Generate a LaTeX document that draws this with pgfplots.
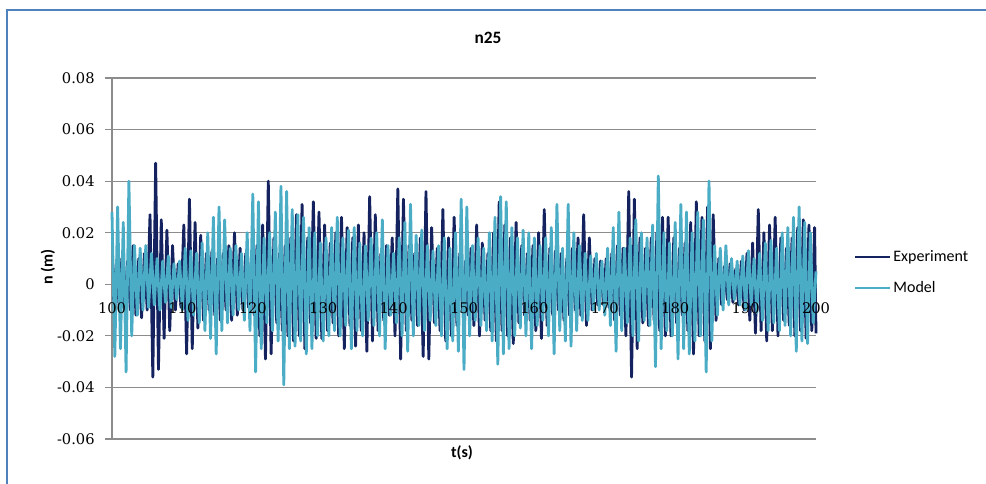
\documentclass[border=0pt]{standalone}
\usepackage{fontspec}
\setmainfont{Carlito}
\newfontfamily\tickfont{DejaVu Serif}
\usepackage{pgfplots}
\pgfplotsset{compat=1.18}
\definecolor{expc}{RGB}{20,35,95}
\definecolor{modc}{RGB}{75,172,198}
\definecolor{gridc}{RGB}{140,140,140}
\definecolor{framec}{RGB}{79,129,189}
\begin{document}
\begin{tikzpicture}
\useasboundingbox (0pt,0pt) rectangle (739.5pt,363pt);
\draw[framec, line width=1.5pt] (5.25pt,-4pt) -- (5.25pt,355.5pt) -- (745pt,355.5pt);
\node[font=\bfseries\fontsize{13}{15}\selectfont] at (366pt,334.5pt) {n25};
\node[font=\bfseries\fontsize{12}{14}\selectfont, rotate=90] at (36pt,162.75pt) {n (m)};
\node[font=\bfseries\fontsize{12}{14}\selectfont] at (346.5pt,23.25pt) {t(s)};
\pgfplotsset{myaxis/.style={at={(84pt,33.75pt)}, anchor=south west, scale only axis,
  width=528pt, height=270.75pt,
  xmin=100, xmax=200, ymin=-0.06, ymax=0.08,
  scaled y ticks=false, scaled x ticks=false,
  tick label style={font=\tickfont\fontsize{11}{13}\selectfont, black},
  clip=false}}
\begin{axis}[myaxis,
  axis y line*=left, axis x line=none,
  axis line style={gridc, line width=0.8pt, -},
  ytick={-0.06,-0.04,-0.02,0,0.02,0.04,0.06,0.08},
  yticklabels={-0.06,-0.04,-0.02,0,0.02,0.04,0.06,0.08},
  ymajorgrids, grid style={gridc, line width=0.8pt},
  ytick style={gridc, line width=0.8pt}, tick align=outside, major tick length=5pt,
  yticklabel style={xshift=-4.5pt},
  legend style={at={(axis description cs:1.048,0.46)}, anchor=west, draw=none, fill=none,
    font=\fontsize{12}{14.5}\selectfont, row sep=9.5pt},
  legend cell align=left,
  legend image code/.code={\draw[#1, line width=1.5pt] (0pt,0pt) -- (26pt,0pt);},
]
\addplot[expc, line width=2.1pt, line join=round] coordinates {
(100.2,-0.006)(100.6,0.008)(101.0,-0.008)(101.4,0.010)(101.8,-0.009)(102.2,0.009)(102.6,-0.010)(103.0,0.015)(103.4,-0.012)(103.8,0.010)(104.2,-0.013)(104.6,0.012)(105.0,-0.010)(105.4,0.027)(105.8,-0.036)(106.2,0.047)(106.6,-0.033)(107.0,0.025)(107.4,-0.021)(107.8,0.021)(108.2,-0.018)(108.6,0.015)(109.0,-0.010)(109.4,0.008)(109.8,-0.009)(110.2,0.023)(110.6,-0.027)(111.0,0.033)(111.4,-0.025)(111.8,0.024)(112.2,-0.017)(112.6,0.019)(113.0,-0.014)(113.4,0.012)(113.8,-0.010)(114.2,0.013)(114.6,-0.012)(115.0,0.010)(115.4,-0.014)(115.8,0.012)(116.2,-0.010)(116.6,0.015)(117.0,-0.014)(117.4,0.020)(117.8,-0.012)(118.2,0.014)(118.6,-0.010)(119.0,0.012)(119.4,-0.009)(119.8,0.010)(120.2,-0.012)(120.6,0.015)(121.0,-0.020)(121.4,0.023)(121.8,-0.029)(122.2,0.040)(122.6,-0.027)(123.0,0.018)(123.4,-0.015)(123.8,0.012)(124.2,-0.018)(124.6,0.015)(125.0,-0.020)(125.4,0.018)(125.8,-0.022)(126.2,0.027)(126.6,-0.020)(127.0,0.031)(127.4,-0.025)(127.8,0.018)(128.2,-0.015)(128.6,0.032)(129.0,-0.021)(129.4,0.028)(129.8,-0.021)(130.2,0.023)(130.6,-0.018)(131.0,0.016)(131.4,-0.015)(131.8,0.020)(132.2,-0.020)(132.6,0.026)(133.0,-0.025)(133.4,0.022)(133.8,-0.016)(134.2,0.018)(134.6,-0.024)(135.0,0.023)(135.4,-0.018)(135.8,0.020)(136.2,-0.026)(136.6,0.034)(137.0,-0.022)(137.4,0.027)(137.8,-0.018)(138.2,0.012)(138.6,-0.014)(139.0,0.015)(139.4,-0.012)(139.8,0.018)(140.2,-0.020)(140.6,0.037)(141.0,-0.029)(141.4,0.033)(141.8,-0.018)(142.2,0.015)(142.6,-0.014)(143.0,0.012)(143.4,-0.016)(143.8,0.018)(144.2,-0.028)(144.6,0.036)(145.0,-0.029)(145.4,0.022)(145.8,-0.015)(146.2,0.014)(146.6,-0.018)(147.0,0.029)(147.4,-0.022)(147.8,0.018)(148.2,-0.020)(148.6,0.026)(149.0,-0.016)(149.4,0.012)(149.8,-0.010)(150.2,0.009)(150.6,-0.012)(151.0,0.014)(151.4,-0.016)(151.8,0.023)(152.2,-0.020)(152.6,0.016)(153.0,-0.014)(153.4,0.012)(153.8,-0.018)(154.2,0.020)(154.6,-0.022)(155.0,0.032)(155.4,-0.018)(155.8,0.023)(156.2,-0.020)(156.6,0.018)(157.0,-0.023)(157.4,0.024)(157.8,-0.015)(158.2,0.015)(158.6,-0.012)(159.0,0.012)(159.4,-0.014)(159.8,0.015)(160.2,-0.018)(160.6,0.020)(161.0,-0.021)(161.4,0.029)(161.8,-0.016)(162.2,0.014)(162.6,-0.012)(163.0,0.013)(163.4,-0.010)(163.8,0.012)(164.2,-0.014)(164.6,0.010)(165.0,-0.012)(165.4,0.014)(165.8,-0.010)(166.2,0.018)(166.6,-0.012)(167.0,0.027)(167.4,-0.016)(167.8,0.018)(168.2,-0.010)(168.6,0.010)(169.0,-0.008)(169.4,0.009)(169.8,-0.008)(170.2,0.010)(170.6,-0.009)(171.0,0.012)(171.4,-0.014)(171.8,0.015)(172.2,-0.012)(172.6,0.014)(173.0,-0.020)(173.4,0.036)(173.8,-0.036)(174.2,0.033)(174.6,-0.025)(175.0,0.018)(175.4,-0.015)(175.8,0.014)(176.2,-0.016)(176.6,0.018)(177.0,-0.014)(177.4,0.020)(177.8,-0.018)(178.2,0.026)(178.6,-0.020)(179.0,0.026)(179.4,-0.020)(179.8,0.018)(180.2,-0.015)(180.6,0.014)(181.0,-0.012)(181.4,0.016)(181.8,-0.018)(182.2,0.024)(182.6,-0.027)(183.0,0.032)(183.4,-0.020)(183.8,0.026)(184.2,-0.022)(184.6,0.030)(185.0,-0.025)(185.4,0.027)(185.8,-0.014)(186.2,0.010)(186.6,-0.008)(187.0,0.007)(187.4,-0.006)(187.8,0.008)(188.2,-0.007)(188.6,0.006)(189.0,-0.008)(189.4,0.009)(189.8,-0.010)(190.2,0.012)(190.6,-0.014)(191.0,0.016)(191.4,-0.019)(191.8,0.029)(192.2,-0.018)(192.6,0.020)(193.0,-0.022)(193.4,0.023)(193.8,-0.018)(194.2,0.026)(194.6,-0.020)(195.0,0.018)(195.4,-0.014)(195.8,0.014)(196.2,-0.016)(196.6,0.018)(197.0,-0.020)(197.4,0.022)(197.8,-0.018)(198.2,0.025)(198.6,-0.021)(199.0,0.023)(199.4,-0.018)(199.8,0.022)(200.0,-0.019)
};
\addlegendentry{Experiment}
\addplot[modc, line width=2.1pt, line join=round] coordinates {
(100.0,0.028)(100.4,-0.028)(100.8,0.030)(101.2,-0.025)(101.6,0.024)(102.0,-0.034)(102.4,0.040)(102.8,-0.020)(103.2,0.015)(103.6,-0.012)(104.0,0.014)(104.4,-0.010)(104.8,0.015)(105.2,-0.009)(105.6,0.012)(106.0,-0.008)(106.4,0.010)(106.8,-0.010)(107.2,0.009)(107.6,-0.007)(108.0,0.011)(108.4,-0.009)(108.8,0.008)(109.2,-0.006)(109.6,0.009)(110.0,-0.010)(110.4,0.014)(110.8,-0.014)(111.2,0.013)(111.6,-0.012)(112.0,0.012)(112.4,-0.015)(112.8,0.016)(113.2,-0.018)(113.6,0.020)(114.0,-0.021)(114.4,0.026)(114.8,-0.027)(115.2,0.030)(115.6,-0.018)(116.0,0.025)(116.4,-0.015)(116.8,0.014)(117.2,-0.012)(117.6,0.015)(118.0,-0.010)(118.4,0.012)(118.8,-0.014)(119.2,0.020)(119.6,-0.018)(120.0,0.035)(120.4,-0.034)(120.8,0.032)(121.2,-0.025)(121.6,0.018)(122.0,-0.015)(122.4,0.020)(122.8,-0.018)(123.2,0.028)(123.6,-0.022)(124.0,0.038)(124.4,-0.039)(124.8,0.036)(125.2,-0.025)(125.6,0.029)(126.0,-0.024)(126.4,0.027)(126.8,-0.022)(127.2,0.026)(127.6,-0.027)(128.0,0.022)(128.4,-0.025)(128.8,0.020)(129.2,-0.020)(129.6,0.016)(130.0,-0.022)(130.4,0.018)(130.8,-0.020)(131.2,0.022)(131.6,-0.018)(132.0,0.026)(132.4,-0.020)(132.8,0.018)(133.2,-0.016)(133.6,0.021)(134.0,-0.025)(134.4,0.022)(134.8,-0.018)(135.2,0.016)(135.6,-0.020)(136.0,0.015)(136.4,-0.014)(136.8,0.018)(137.2,-0.016)(137.6,0.020)(138.0,-0.020)(138.4,0.025)(138.8,-0.025)(139.2,0.015)(139.6,-0.012)(140.0,0.012)(140.4,-0.015)(140.8,0.018)(141.2,-0.020)(141.6,0.024)(142.0,-0.026)(142.4,0.031)(142.8,-0.020)(143.2,0.019)(143.6,-0.016)(144.0,0.021)(144.4,-0.018)(144.8,0.015)(145.2,-0.014)(145.6,0.013)(146.0,-0.016)(146.4,0.015)(146.8,-0.020)(147.2,0.018)(147.6,-0.025)(148.0,0.014)(148.4,-0.022)(148.8,0.020)(149.2,-0.026)(149.6,0.033)(150.0,-0.033)(150.4,0.030)(150.8,-0.020)(151.2,0.015)(151.6,-0.014)(152.0,0.018)(152.4,-0.016)(152.8,0.014)(153.2,-0.018)(153.6,0.020)(154.0,-0.022)(154.4,0.026)(154.8,-0.031)(155.2,0.034)(155.6,-0.027)(156.0,0.032)(156.4,-0.025)(156.8,0.022)(157.2,-0.020)(157.6,0.018)(158.0,-0.017)(158.4,0.021)(158.8,-0.020)(159.2,0.020)(159.6,-0.025)(160.0,0.018)(160.4,-0.016)(160.8,0.015)(161.2,-0.014)(161.6,0.018)(162.0,-0.020)(162.4,0.022)(162.8,-0.027)(163.2,0.031)(163.6,-0.018)(164.0,0.014)(164.4,-0.022)(164.8,0.031)(165.2,-0.024)(165.6,0.020)(166.0,-0.018)(166.4,0.015)(166.8,-0.014)(167.2,0.012)(167.6,-0.014)(168.0,0.011)(168.4,-0.010)(168.8,0.012)(169.2,-0.010)(169.6,0.009)(170.0,-0.012)(170.4,0.014)(170.8,-0.016)(171.2,0.022)(171.6,-0.026)(172.0,0.028)(172.4,-0.018)(172.8,0.014)(173.2,-0.015)(173.6,0.018)(174.0,-0.020)(174.4,0.025)(174.8,-0.022)(175.2,0.020)(175.6,-0.014)(176.0,0.018)(176.4,-0.016)(176.8,0.023)(177.2,-0.032)(177.6,0.042)(178.0,-0.025)(178.4,0.020)(178.8,-0.018)(179.2,0.016)(179.6,-0.020)(180.0,0.024)(180.4,-0.029)(180.8,0.031)(181.2,-0.025)(181.6,0.028)(182.0,-0.027)(182.4,0.020)(182.8,-0.022)(183.2,0.028)(183.6,-0.020)(184.0,0.025)(184.4,-0.034)(184.8,0.040)(185.2,-0.022)(185.6,0.015)(186.0,-0.012)(186.4,0.014)(186.8,-0.010)(187.2,0.015)(187.6,-0.008)(188.0,0.010)(188.4,-0.006)(188.8,0.009)(189.2,-0.008)(189.6,0.011)(190.0,-0.010)(190.4,0.013)(190.8,-0.008)(191.2,0.010)(191.6,-0.011)(192.0,0.012)(192.4,-0.014)(192.8,0.016)(193.2,-0.018)(193.6,0.017)(194.0,-0.015)(194.4,0.014)(194.8,-0.018)(195.2,0.020)(195.6,-0.016)(196.0,0.022)(196.4,-0.020)(196.8,0.026)(197.2,-0.026)(197.6,0.030)(198.0,-0.022)(198.4,0.024)(198.8,-0.023)(199.2,0.020)(199.6,-0.015)(200.0,0.005)
};
\addlegendentry{Model}
\end{axis}
\begin{axis}[myaxis,
  axis x line*=middle, axis y line=none,
  axis line style={draw=none},
  xtick={100,110,120,130,140,150,160,170,180,190,200},
  xticklabels={100,110,120,130,140,150,160,170,180,190,200},
  xtick style={draw=none},
  xticklabel style={yshift=-10.5pt},
]
\end{axis}
\end{tikzpicture}
\end{document}
